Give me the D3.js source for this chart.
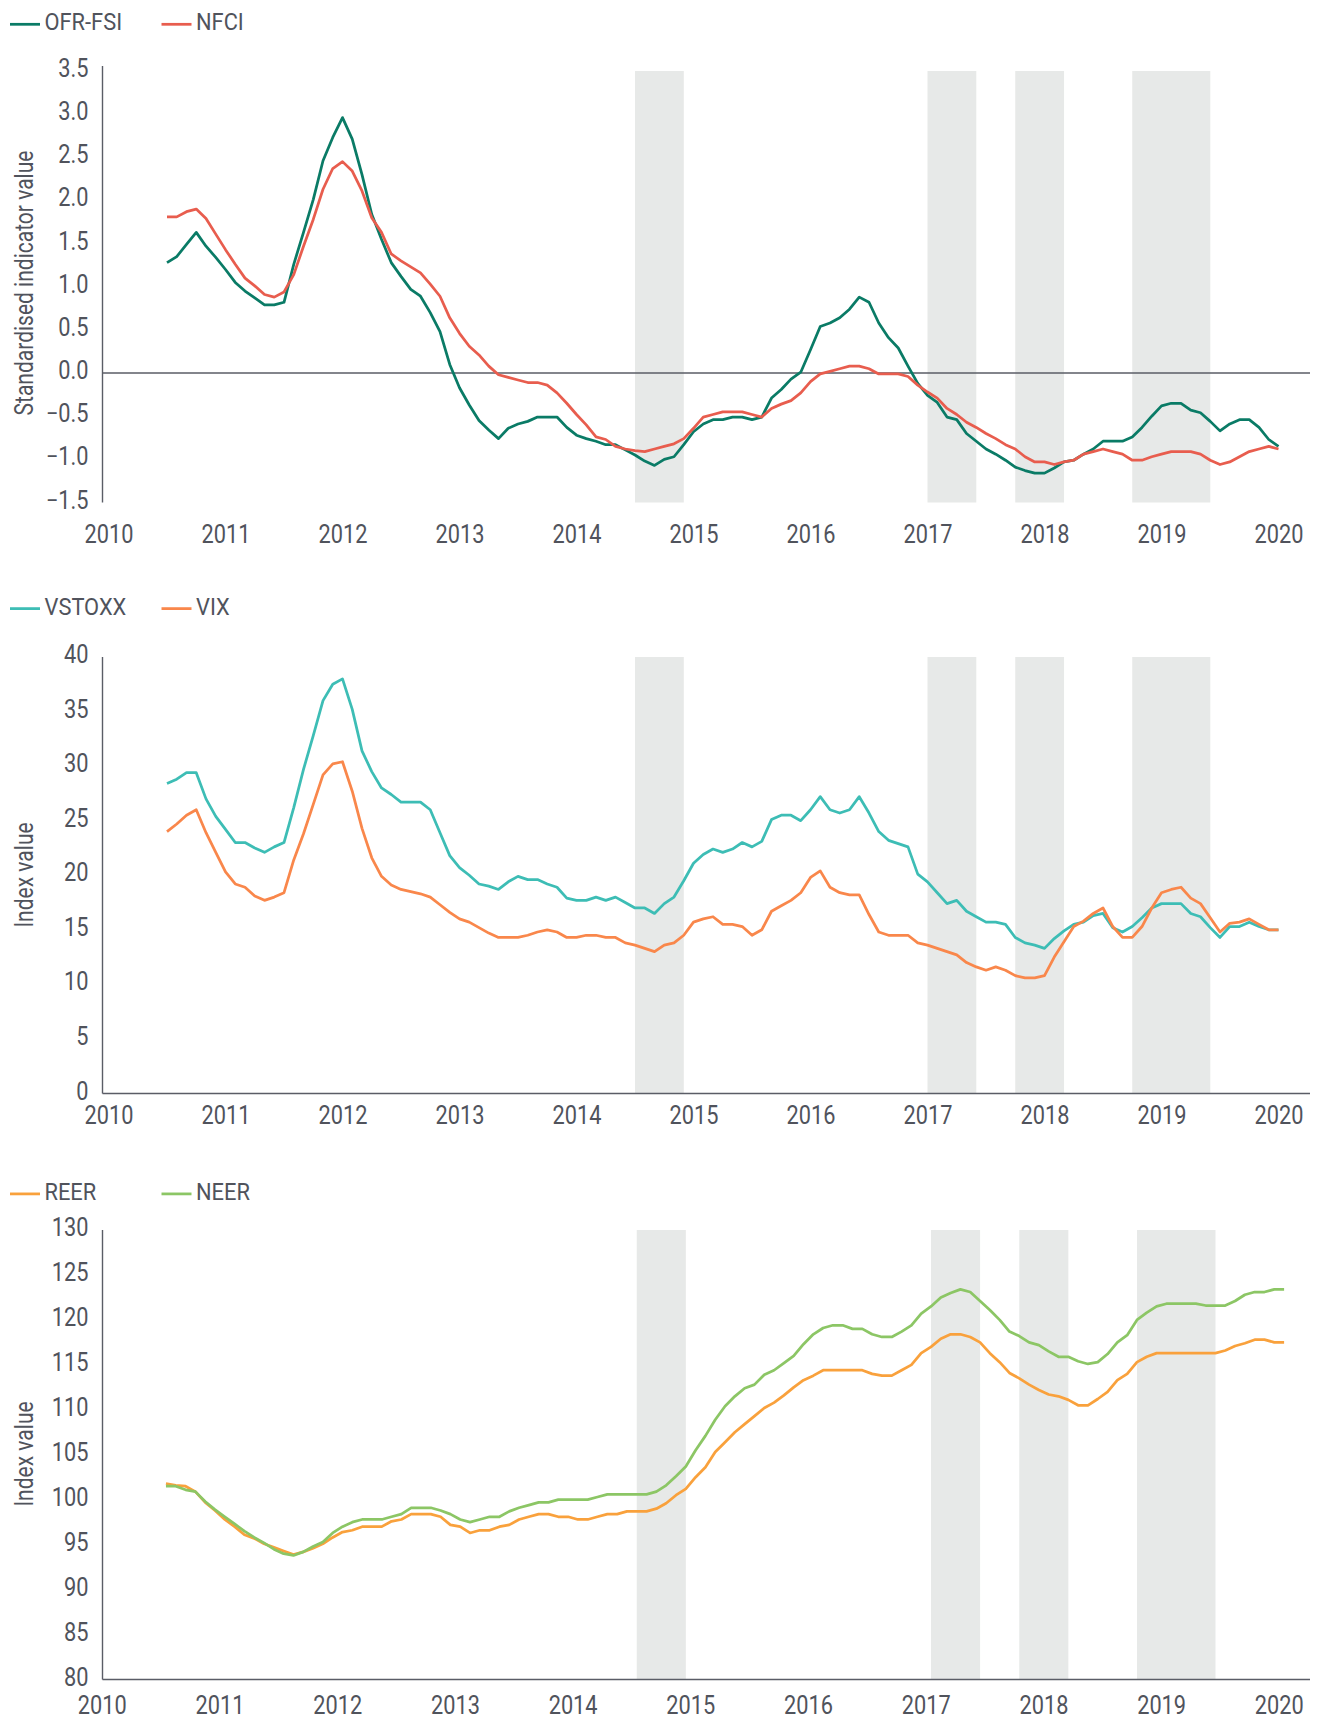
<!DOCTYPE html>
<html>
<head>
<meta charset="utf-8">
<script src="https://cdn.jsdelivr.net/npm/d3@7"></script>
<style>
  body { margin: 0; background: #fff; }
  svg text { font-family: Roboto, 'Liberation Sans', sans-serif; fill: #50535c; }
</style>
</head>
<body>
<svg id="chart"></svg>
<script>
// monthly observations, Jul 2010 to Jan 2020
const startYear = 2010.5;

const ofrFsi = [
  1.28, 1.35, 1.49, 1.63, 1.47, 1.34,
  1.20, 1.05, 0.95, 0.87, 0.79, 0.79, 0.82, 1.26, 1.63, 2.01, 2.46, 2.73,
  2.96, 2.71, 2.30, 1.84, 1.55, 1.28, 1.12, 0.97, 0.89, 0.70, 0.48, 0.10,
  -0.17, -0.37, -0.55, -0.66, -0.76, -0.64, -0.59, -0.56, -0.51, -0.51, -0.51, -0.63,
  -0.72, -0.76, -0.79, -0.83, -0.83, -0.89, -0.95, -1.02, -1.07, -1.00, -0.97, -0.83,
  -0.68, -0.59, -0.54, -0.54, -0.51, -0.51, -0.54, -0.51, -0.29, -0.19, -0.07, 0.01,
  0.27, 0.54, 0.58, 0.64, 0.74, 0.88, 0.82, 0.58, 0.41, 0.29, 0.08, -0.12,
  -0.26, -0.34, -0.51, -0.54, -0.70, -0.79, -0.88, -0.94, -1.01, -1.09, -1.13, -1.16,
  -1.16, -1.10, -1.03, -1.01, -0.94, -0.88, -0.79, -0.79, -0.79, -0.74, -0.63, -0.50,
  -0.38, -0.35, -0.35, -0.43, -0.46, -0.56, -0.67, -0.59, -0.54, -0.54, -0.63, -0.77,
  -0.85
];

const nfci = [
  1.81, 1.81, 1.87, 1.90, 1.79, 1.61,
  1.43, 1.26, 1.10, 1.01, 0.91, 0.88, 0.94, 1.14, 1.47, 1.78, 2.13, 2.37,
  2.45, 2.34, 2.11, 1.80, 1.63, 1.38, 1.30, 1.23, 1.16, 1.03, 0.89, 0.64,
  0.46, 0.31, 0.21, 0.08, -0.02, -0.05, -0.08, -0.11, -0.11, -0.14, -0.23, -0.35,
  -0.48, -0.60, -0.74, -0.77, -0.85, -0.88, -0.90, -0.91, -0.88, -0.85, -0.82, -0.76,
  -0.64, -0.51, -0.48, -0.45, -0.45, -0.45, -0.48, -0.51, -0.41, -0.36, -0.32, -0.23,
  -0.10, -0.01, 0.02, 0.05, 0.08, 0.08, 0.05, -0.01, -0.01, -0.01, -0.04, -0.14,
  -0.22, -0.29, -0.41, -0.48, -0.57, -0.63, -0.70, -0.76, -0.83, -0.88, -0.97, -1.03,
  -1.03, -1.06, -1.03, -1.01, -0.94, -0.91, -0.88, -0.91, -0.94, -1.01, -1.01, -0.97,
  -0.94, -0.91, -0.91, -0.91, -0.94, -1.01, -1.06, -1.03, -0.97, -0.91, -0.88, -0.85,
  -0.88
];

const vstoxx = [
  28.4, 28.8, 29.4, 29.4, 27.0, 25.4,
  24.2, 23.0, 23.0, 22.5, 22.1, 22.6, 23.0, 26.2, 29.7, 32.8, 36.0, 37.5,
  38.0, 35.2, 31.4, 29.5, 28.0, 27.4, 26.7, 26.7, 26.7, 26.0, 23.9, 21.8,
  20.7, 20.0, 19.2, 19.0, 18.7, 19.4, 19.9, 19.6, 19.6, 19.2, 18.9, 17.9,
  17.7, 17.7, 18.0, 17.7, 18.0, 17.5, 17.0, 17.0, 16.5, 17.4, 18.0, 19.5,
  21.1, 21.9, 22.4, 22.1, 22.4, 23.0, 22.6, 23.1, 25.1, 25.5, 25.5, 25.0,
  26.0, 27.2, 26.0, 25.7, 26.0, 27.2, 25.7, 24.0, 23.2, 22.9, 22.6, 20.1,
  19.4, 18.4, 17.4, 17.7, 16.7, 16.2, 15.7, 15.7, 15.5, 14.3, 13.8, 13.6,
  13.3, 14.2, 14.9, 15.5, 15.7, 16.3, 16.5, 15.2, 14.8, 15.3, 16.1, 17.0,
  17.4, 17.4, 17.4, 16.5, 16.2, 15.2, 14.3, 15.3, 15.3, 15.7, 15.3, 15.0,
  15.0
];

const vix = [
  24.0, 24.7, 25.5, 26.0, 23.9, 22.1,
  20.3, 19.2, 18.9, 18.1, 17.7, 18.0, 18.4, 21.4, 23.8, 26.5, 29.2, 30.2,
  30.4, 27.7, 24.3, 21.6, 19.9, 19.1, 18.7, 18.5, 18.3, 18.0, 17.3, 16.6,
  16.0, 15.7, 15.2, 14.7, 14.3, 14.3, 14.3, 14.5, 14.8, 15.0, 14.8, 14.3,
  14.3, 14.5, 14.5, 14.3, 14.3, 13.8, 13.6, 13.3, 13.0, 13.6, 13.8, 14.5,
  15.7, 16.0, 16.2, 15.5, 15.5, 15.3, 14.5, 15.0, 16.7, 17.2, 17.7, 18.4,
  19.8, 20.4, 18.9, 18.4, 18.2, 18.2, 16.4, 14.8, 14.5, 14.5, 14.5, 13.8,
  13.6, 13.3, 13.0, 12.7, 12.0, 11.6, 11.3, 11.6, 11.3, 10.8, 10.6, 10.6,
  10.8, 12.5, 13.9, 15.3, 15.8, 16.5, 17.0, 15.3, 14.3, 14.3, 15.3, 17.0,
  18.4, 18.7, 18.9, 17.9, 17.4, 16.1, 14.8, 15.6, 15.7, 16.0, 15.5, 15.0,
  15.0
];

const reer = [
  101.8, 101.6, 101.5, 100.9, 99.7, 98.8,
  97.8, 97.0, 96.1, 95.7, 95.1, 94.7, 94.3, 93.9, 94.2, 94.6, 95.1, 95.8,
  96.4, 96.6, 97.0, 97.0, 97.0, 97.6, 97.8, 98.4, 98.4, 98.4, 98.1, 97.2,
  97.0, 96.3, 96.6, 96.6, 97.0, 97.2, 97.8, 98.1, 98.4, 98.4, 98.1, 98.1,
  97.8, 97.8, 98.1, 98.4, 98.4, 98.7, 98.7, 98.7, 99.0, 99.6, 100.5, 101.2,
  102.5, 103.6, 105.3, 106.4, 107.5, 108.4, 109.3, 110.2, 110.8, 111.6, 112.5, 113.3,
  113.8, 114.4, 114.4, 114.4, 114.4, 114.4, 114.0, 113.8, 113.8, 114.4, 115.0, 116.3,
  117.0, 117.9, 118.4, 118.4, 118.1, 117.5, 116.3, 115.3, 114.1, 113.5, 112.8, 112.2,
  111.7, 111.5, 111.1, 110.5, 110.5, 111.2, 112.0, 113.3, 114.0, 115.3, 115.9, 116.3,
  116.3, 116.3, 116.3, 116.3, 116.3, 116.3, 116.6, 117.1, 117.4, 117.8, 117.8, 117.5,
  117.5
];

const neer = [
  101.5, 101.5, 101.1, 100.9, 99.8, 98.9,
  98.1, 97.3, 96.5, 95.8, 95.2, 94.5, 94.0, 93.8, 94.2, 94.8, 95.3, 96.3,
  97.0, 97.5, 97.8, 97.8, 97.8, 98.1, 98.4, 99.1, 99.1, 99.1, 98.8, 98.4,
  97.8, 97.5, 97.8, 98.1, 98.1, 98.7, 99.1, 99.4, 99.7, 99.7, 100.0, 100.0,
  100.0, 100.0, 100.3, 100.6, 100.6, 100.6, 100.6, 100.6, 100.9, 101.6, 102.6, 103.7,
  105.5, 107.1, 108.9, 110.4, 111.5, 112.4, 112.8, 113.9, 114.4, 115.2, 116.0, 117.3,
  118.4, 119.1, 119.4, 119.4, 119.0, 119.0, 118.4, 118.1, 118.1, 118.7, 119.4, 120.7,
  121.5, 122.5, 123.0, 123.4, 123.1, 122.1, 121.1, 120.0, 118.7, 118.2, 117.5, 117.2,
  116.5, 115.9, 115.9, 115.4, 115.1, 115.3, 116.2, 117.5, 118.3, 120.0, 120.8, 121.5,
  121.8, 121.8, 121.8, 121.8, 121.6, 121.6, 121.6, 122.1, 122.8, 123.1, 123.1, 123.4,
  123.4
];

// shaded periods, decimal years
const bandStarts = [2014.5, 2017.0, 2017.75, 2018.75];
const bandEnds = [2014.917, 2017.417, 2018.167, 2019.417];

const years = d3.range(2010, 2021);
const fsiTicks = d3.range(-1.5, 3.51, 0.5);
const volTicks = d3.range(0, 41, 5);
const fxTicks = d3.range(80, 131, 5);

const width = 1320;
const height = 1720;
const rightEdge = 1310;
const axisX = 102.5;

const svg = d3.select('#chart')
  .attr('width', width)
  .attr('height', height);

const panels = [
  {
    series: [
      { name: 'OFR-FSI', values: ofrFsi, color: '#0a7b66' },
      { name: 'NFCI', values: nfci, color: '#e85d4e' }
    ],
    yDomain: [-1.5, 3.5], yRange: [502.5, 71], yTicks: fsiTicks, yFormat: d3.format('.1f'),
    xRange: [108.5, 1278.5], labelShift: 0, labelY: 543,
    axisTop: 66, zeroLine: true, baseLine: false,
    legendY: 24.3, title: 'Standardised indicator value', titleY: 283
  },
  {
    series: [
      { name: 'VSTOXX', values: vstoxx, color: '#3dbdb5' },
      { name: 'VIX', values: vix, color: '#f9874b' }
    ],
    yDomain: [0, 40], yRange: [1093.5, 657], yTicks: volTicks, yFormat: d3.format('d'),
    xRange: [108.5, 1278.5], labelShift: 0, labelY: 1123.5,
    axisTop: 657, zeroLine: false, baseLine: true,
    legendY: 608.6, title: 'Index value', titleY: 875
  },
  {
    series: [
      { name: 'REER', values: reer, color: '#f9a13c' },
      { name: 'NEER', values: neer, color: '#8cc665' }
    ],
    yDomain: [80, 130], yRange: [1679.5, 1230], yTicks: fxTicks, yFormat: d3.format('d'),
    xRange: [107.1, 1284.1], labelShift: -5.3, labelY: 1713.5,
    axisTop: 1230, zeroLine: false, baseLine: true,
    legendY: 1193.9, title: 'Index value', titleY: 1454
  }
];

panels.forEach(p => {
  const g = svg.append('g');

  const x = d3.scaleLinear().domain([2010, 2020]).range(p.xRange);
  const y = d3.scaleLinear().domain(p.yDomain).range(p.yRange);

  // shaded periods
  g.selectAll('rect.band')
    .data(bandStarts.map((s, i) => [s, bandEnds[i]]))
    .enter()
    .append('rect')
    .attr('class', 'band')
    .attr('x', d => x(d[0]))
    .attr('y', p.yRange[1])
    .attr('width', d => x(d[1]) - x(d[0]))
    .attr('height', p.yRange[0] - p.yRange[1])
    .attr('fill', '#e7e9e8');

  // y axis
  const yAxis = g.append('g')
    .attr('transform', `translate(${axisX},0)`)
    .call(d3.axisLeft(y).tickValues(p.yTicks).tickSize(0).tickPadding(14).tickFormat(p.yFormat));
  yAxis.select('.domain').remove();
  yAxis.selectAll('text')
    .attr('class', 'tick-label')
    .attr('dy', null)
    .attr('y', 5.5)
    .style('font-size', '25px')
    .attr('fill', '#50535c');

  g.append('line')
    .attr('x1', axisX).attr('x2', axisX)
    .attr('y1', p.axisTop).attr('y2', p.yRange[0])
    .attr('stroke', '#5a5d66').attr('stroke-width', 1.4);

  if (p.zeroLine) {
    g.append('line')
      .attr('x1', axisX).attr('x2', rightEdge)
      .attr('y1', y(0)).attr('y2', y(0))
      .attr('stroke', '#5a5d66').attr('stroke-width', 1.4);
  }
  if (p.baseLine) {
    g.append('line')
      .attr('x1', axisX).attr('x2', rightEdge)
      .attr('y1', p.yRange[0]).attr('y2', p.yRange[0])
      .attr('stroke', '#5a5d66').attr('stroke-width', 1.6);
  }

  // x axis labels
  const xAxis = g.append('g')
    .attr('transform', `translate(${p.labelShift},${p.labelY})`)
    .call(d3.axisBottom(x).tickValues(years).tickSize(0).tickPadding(0).tickFormat(d3.format('d')));
  xAxis.select('.domain').remove();
  xAxis.selectAll('text')
    .attr('class', 'tick-label')
    .attr('dy', null)
    .attr('y', 0)
    .style('font-size', '25px')
    .attr('fill', '#50535c');

  // y axis title
  g.append('text')
    .attr('class', 'title')
    .attr('transform', `translate(33,${p.titleY}) rotate(-90)`)
    .attr('text-anchor', 'middle')
    .style('font-size', '25px')
    .text(p.title);

  // lines
  const line = d3.line()
    .x((d, i) => x(startYear + i / 12))
    .y(d => y(d));

  p.series.forEach(s => {
    g.append('path')
      .datum(s.values)
      .attr('fill', 'none')
      .attr('stroke', s.color)
      .attr('stroke-width', 2.75)
      .attr('stroke-linejoin', 'round')
      .attr('d', line);
  });

  // legend
  const legend = g.selectAll('g.legend')
    .data(p.series)
    .enter()
    .append('g')
    .attr('class', 'legend')
    .attr('transform', (d, i) => `translate(${10 + i * 151.5},${p.legendY})`);

  legend.append('line')
    .attr('x1', 0).attr('x2', 30)
    .attr('stroke', d => d.color)
    .attr('stroke-width', 2.75);

  legend.append('text')
    .attr('class', 'legend-label')
    .attr('x', 34.5)
    .attr('y', 6)
    .style('font-size', '24px')
    .text(d => d.name);
});

// the source typeface is a condensed sans, so squeeze Roboto horizontally
const squeeze = { 'tick-label': 0.87, 'legend-label': 0.91, 'title': 0.84 };
svg.selectAll('text').each(function () {
  const k = squeeze[this.getAttribute('class')] || 0.88;
  const w = this.getComputedTextLength();
  this.setAttribute('textLength', (w * k).toFixed(1));
  this.setAttribute('lengthAdjust', 'spacingAndGlyphs');
});
</script>
</body>
</html>
